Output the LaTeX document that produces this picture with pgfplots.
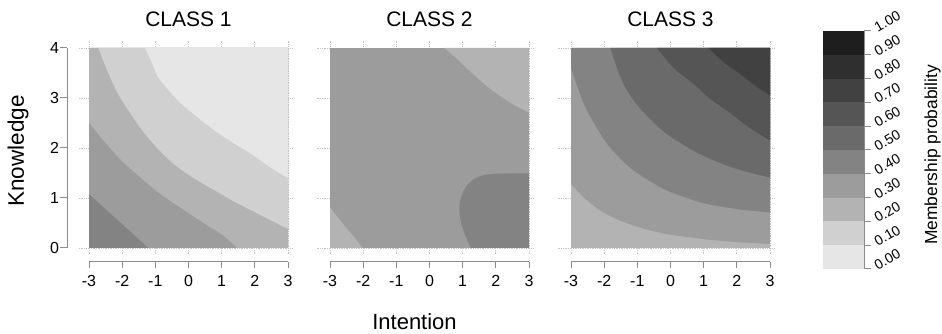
\documentclass[border=0pt]{standalone}
\usepackage{fontspec}
\setmainfont{Liberation Sans}
\usepackage{pgfplots}
\pgfplotsset{compat=1.18}

\definecolor{c0}{HTML}{E6E6E6}
\definecolor{c1}{HTML}{D0D0D0}
\definecolor{c2}{HTML}{B3B3B3}
\definecolor{c3}{HTML}{9C9C9C}
\definecolor{c4}{HTML}{838383}
\definecolor{c5}{HTML}{6A6A6A}
\definecolor{c6}{HTML}{555555}
\definecolor{c7}{HTML}{414141}
\definecolor{c8}{HTML}{2F2F2F}
\definecolor{c9}{HTML}{1E1E1E}
\definecolor{axgray}{HTML}{8C8C8C}

\pgfplotsset{
  /pgf/number format/assume math mode=true,
  panel/.style={scale only axis, width=199pt, height=200pt,
    xmin=-3, xmax=3, ymin=0, ymax=4, hide axis, clip=false,
    anchor=south west},
  xhelp/.style={scale only axis, width=199pt, height=10pt,
    xmin=-3, xmax=3, ymin=0, ymax=1, anchor=south west,
    axis x line=bottom, axis y line=none, x axis line style={-},
    xtick={-3,-2,-1,0,1,2,3}, xticklabels={-3,-2,-1,0,1,2,3},
    tick align=outside, major tick length=6.5pt,
    axis line style={axgray, line width=1pt},
    tick style={axgray, line width=1pt},
    xticklabel style={font=\fontsize{16}{16}\selectfont, text=black, yshift=-3pt}},
  gridl/.style={densely dotted, gray!45, line width=0.7pt, unbounded coords=jump},
  band/.style={draw=none, fill=#1},
  cband/.style={draw=none, fill=#1, smooth, tension=0.6}
}

\begin{document}
\begin{tikzpicture}
\useasboundingbox (0,0) rectangle (942pt,334pt);

% ---------------- CLASS 1 ----------------
\begin{axis}[panel, at={(89pt,86pt)}]
\addplot[gridl] coordinates {(-3.3,0) (3.15,0) (nan,nan) (-3.3,1) (3.15,1) (nan,nan) (-3.3,2) (3.15,2) (nan,nan) (-3.3,3) (3.15,3) (nan,nan) (-3.3,4) (3.15,4) (nan,nan)
 (-3,-0.12) (-3,4.15) (nan,nan) (-2,-0.12) (-2,4.15) (nan,nan) (-1,-0.12) (-1,4.15) (nan,nan) (0,-0.12) (0,4.15) (nan,nan) (1,-0.12) (1,4.15) (nan,nan) (2,-0.12) (2,4.15) (nan,nan) (3,-0.12) (3,4.15)};
\addplot[band=c4] coordinates {(-3,0) (3,0) (3,4) (-3,4)} --cycle;
\addplot[cband=c3] coordinates {(-3,1.08) (-2.5,0.78) (-2.12,0.55) (-1.7,0.3) (-1.21,0)} -- (axis cs:3,0) -- (axis cs:3,4) -- (axis cs:-3,4) -- cycle;
\addplot[cband=c2] coordinates {(-3,2.51) (-2.5,2.1) (-2,1.74) (-1.5,1.44) (-1,1.16) (-0.5,0.92) (0,0.7) (0.5,0.48) (1,0.27) (1.47,0)} -- (axis cs:3,0) -- (axis cs:3,4) -- (axis cs:-3,4) -- cycle;
\addplot[cband=c1] coordinates {(-2.72,4) (-2.45,3.55) (-2.12,3.08) (-1.7,2.64) (-1.31,2.28) (-0.8,1.9) (-0.31,1.61) (0.3,1.34) (0.9,1.11) (1.4,0.92) (1.9,0.75) (2.5,0.55) (3,0.38)} -- (axis cs:3,4) -- cycle;
\addplot[cband=c0] coordinates {(-1.31,4) (-1.1,3.7) (-0.91,3.41) (-0.55,3.12) (-0.21,2.88) (0.3,2.6) (0.79,2.35) (1.35,2.1) (1.9,1.88) (2.45,1.62) (3,1.40)} -- (axis cs:3,4) -- cycle;
\end{axis}

% ---------------- CLASS 2 ----------------
\begin{axis}[panel, at={(330pt,86pt)}]
\addplot[gridl] coordinates {(-3.4,0) (3.15,0) (nan,nan) (-3.4,1) (3.15,1) (nan,nan) (-3.4,2) (3.15,2) (nan,nan) (-3.4,3) (3.15,3) (nan,nan) (-3.4,4) (3.15,4) (nan,nan)
 (-3,-0.12) (-3,4.15) (nan,nan) (-2,-0.12) (-2,4.15) (nan,nan) (-1,-0.12) (-1,4.15) (nan,nan) (0,-0.12) (0,4.15) (nan,nan) (1,-0.12) (1,4.15) (nan,nan) (2,-0.12) (2,4.15) (nan,nan) (3,-0.12) (3,4.15)};
\addplot[band=c3] coordinates {(-3,0) (3,0) (3,4) (-3,4)} --cycle;
\addplot[cband=c2] coordinates {(0.45,4) (0.8,3.8) (1.2,3.55) (1.55,3.34) (1.9,3.15) (2.45,2.9) (3,2.71)} -- (axis cs:3,4) -- cycle;
\addplot[cband=c2] coordinates {(-3,0.81) (-2.75,0.6) (-2.52,0.41) (-2.25,0.2) (-2.02,0)} -- (axis cs:-3,0) -- cycle;
\addplot[cband=c4] coordinates {(1.25,0) (1.08,0.25) (0.96,0.5) (0.9,0.75) (0.95,1.01) (1.12,1.24) (1.4,1.4) (1.8,1.475) (2.3,1.49) (3,1.49)} -- (axis cs:3,0) -- cycle;
\end{axis}

% ---------------- CLASS 3 ----------------
\begin{axis}[panel, at={(571pt,86pt)}]
\addplot[gridl] coordinates {(-3.4,0) (3.15,0) (nan,nan) (-3.4,1) (3.15,1) (nan,nan) (-3.4,2) (3.15,2) (nan,nan) (-3.4,3) (3.15,3) (nan,nan) (-3.4,4) (3.15,4) (nan,nan)
 (-3,-0.12) (-3,4.15) (nan,nan) (-2,-0.12) (-2,4.15) (nan,nan) (-1,-0.12) (-1,4.15) (nan,nan) (0,-0.12) (0,4.15) (nan,nan) (1,-0.12) (1,4.15) (nan,nan) (2,-0.12) (2,4.15) (nan,nan) (3,-0.12) (3,4.15)};
\addplot[band=c2] coordinates {(-3,0) (3,0) (3,4) (-3,4)} --cycle;
\addplot[cband=c3] coordinates {(-3,1.28) (-2.6,1.0) (-2.12,0.75) (-1.6,0.57) (-1.11,0.45) (-0.6,0.35) (-0.11,0.28) (0.6,0.21) (1.4,0.15) (2.2,0.11) (3,0.08)} -- (axis cs:3,4) -- (axis cs:-3,4) -- cycle;
\addplot[cband=c4] coordinates {(-3,3.6) (-2.75,3.12) (-2.52,2.75) (-2.2,2.38) (-1.91,2.08) (-1.5,1.78) (-1.11,1.55) (-0.6,1.33) (-0.11,1.15) (0.5,1.0) (1.1,0.88) (2,0.78) (3,0.71)} -- (axis cs:3,4) -- (axis cs:-3,4) -- cycle;
\addplot[cband=c5] coordinates {(-1.81,4) (-1.5,3.4) (-1.11,2.95) (-0.6,2.57) (-0.11,2.28) (0.5,2.02) (1.1,1.81) (2,1.58) (3,1.41)} -- (axis cs:3,4) -- cycle;
\addplot[cband=c6] coordinates {(-0.41,4) (0.1,3.6) (0.7,3.28) (1.2,2.98) (1.7,2.75) (2.35,2.42) (3,2.15)} -- (axis cs:3,4) -- cycle;
\addplot[cband=c7] coordinates {(1.15,4) (1.6,3.72) (2.1,3.48) (2.55,3.25) (3,3.05)} -- (axis cs:3,4) -- cycle;
\end{axis}

% ---------------- axes ----------------
\begin{axis}[xhelp, at={(89pt,72pt)}]\end{axis}
\begin{axis}[xhelp, at={(330pt,72pt)}]\end{axis}
\begin{axis}[xhelp, at={(571pt,72pt)}]\end{axis}

\begin{axis}[scale only axis, width=10pt, height=200pt, at={(77pt,86pt)}, anchor=south east,
    xmin=0, xmax=1, ymin=0, ymax=4,
    axis y line=left, axis x line=none, y axis line style={-},
    ytick={0,1,2,3,4}, yticklabels={0,1,2,3,4},
    tick align=outside, major tick length=6.5pt,
    axis line style={axgray, line width=1pt},
    tick style={axgray, line width=1pt},
    yticklabel style={font=\fontsize{16}{16}\selectfont, text=black, xshift=2pt}]
\end{axis}

% ---------------- colour key ----------------
\begin{axis}[scale only axis, width=41pt, height=238pt, at={(823pt,65pt)}, anchor=south west,
    xmin=0, xmax=1, ymin=0, ymax=1,
    axis y line=right, axis x line=none, y axis line style={-},
    ytick={0,0.1,0.2,0.3,0.4,0.5,0.6,0.7,0.8,0.9,1},
    yticklabels={0.00,0.10,0.20,0.30,0.40,0.50,0.60,0.70,0.80,0.90,1.00},
    tick align=outside, major tick length=7pt,
    axis line style={axgray, line width=1pt},
    tick style={axgray, line width=1pt},
    yticklabel style={font=\fontsize{14}{14}\selectfont, text=black, rotate=30, anchor=west, inner sep=0pt, xshift=5pt}]
\addplot[band=c0] coordinates {(0,0) (1,0) (1,0.1) (0,0.1)} --cycle;
\addplot[band=c1] coordinates {(0,0.1) (1,0.1) (1,0.2) (0,0.2)} --cycle;
\addplot[band=c2] coordinates {(0,0.2) (1,0.2) (1,0.3) (0,0.3)} --cycle;
\addplot[band=c3] coordinates {(0,0.3) (1,0.3) (1,0.4) (0,0.4)} --cycle;
\addplot[band=c4] coordinates {(0,0.4) (1,0.4) (1,0.5) (0,0.5)} --cycle;
\addplot[band=c5] coordinates {(0,0.5) (1,0.5) (1,0.6) (0,0.6)} --cycle;
\addplot[band=c6] coordinates {(0,0.6) (1,0.6) (1,0.7) (0,0.7)} --cycle;
\addplot[band=c7] coordinates {(0,0.7) (1,0.7) (1,0.8) (0,0.8)} --cycle;
\addplot[band=c8] coordinates {(0,0.8) (1,0.8) (1,0.9) (0,0.9)} --cycle;
\addplot[band=c9] coordinates {(0,0.9) (1,0.9) (1,1) (0,1)} --cycle;
\end{axis}

% ---------------- titles and labels ----------------
\node[anchor=base, font=\fontsize{21}{21}\selectfont] at (188.5pt,307pt) {CLASS 1};
\node[anchor=base, font=\fontsize{21}{21}\selectfont] at (429.5pt,307pt) {CLASS 2};
\node[anchor=base, font=\fontsize{21}{21}\selectfont] at (670.5pt,307pt) {CLASS 3};
\node[anchor=base, font=\fontsize{22}{22}\selectfont] at (414.5pt,4pt) {Intention};
\node[anchor=base, rotate=90, font=\fontsize{22.5}{22.5}\selectfont] at (24pt,183pt) {Knowledge};
\node[anchor=base, rotate=90, font=\fontsize{17.4}{17.4}\selectfont] at (937pt,179pt) {Membership probability};
\end{tikzpicture}
\end{document}
